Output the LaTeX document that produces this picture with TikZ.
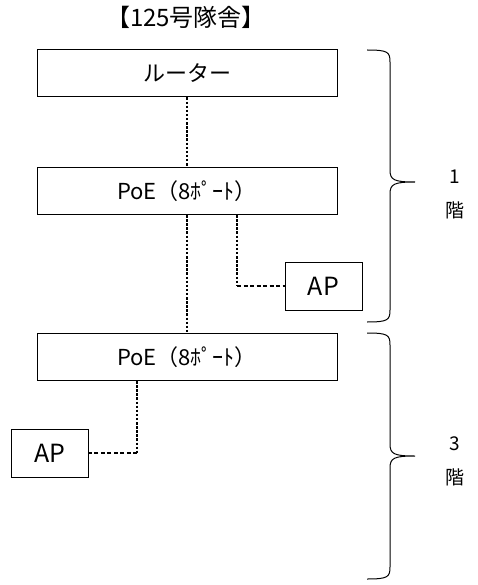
\documentclass[tikz,border=0pt]{standalone}
\usepackage{fontspec}
\setmainfont{Noto Sans CJK JP}
\usetikzlibrary{positioning,calc}
\tikzset{
  devbox/.style={draw, line width=1pt, minimum width=300pt, minimum height=47pt,
    inner sep=0pt, font=\fontsize{22}{25}\selectfont},
  apbox/.style={draw, line width=1pt, minimum width=77pt, minimum height=48pt,
    inner sep=0pt, font=\fontsize{25}{28}\selectfont},
  vlink/.style={line width=1.4pt, dash pattern=on 2.5pt off 1.6pt},
  hlink/.style={line width=1.4pt, dash pattern=on 4pt off 2.5pt},
  floorbrace/.style={line width=1pt},
  floorlbl/.style={font=\fontsize{19}{22}\selectfont},
}
\begin{document}
\begin{tikzpicture}[x=1pt, y=-1pt]
  \useasboundingbox (0,0) rectangle (478,585);

  % Title
  \node[font=\fontsize{24}{27}\selectfont] (title) at (186,17) {【125号隊舎】};

  % Devices
  \node[devbox] (router) at (187,73.5) {ルーター};
  \node[devbox] (poeA) at (187,191) {PoE（8ﾎﾟｰﾄ）};
  \node[devbox] (poeB) at (187,357) {PoE（8ﾎﾟｰﾄ）};
  \node[apbox] (apA) at (323.5,286) {AP};
  \node[apbox] (apB) at (50,453) {AP};

  % Links
  \coordinate (jA) at (237,286);
  \coordinate (jB) at (137,453);
  \draw[vlink] (router.south) -- (poeA.north);
  \draw[vlink] (poeA.south) -- (poeB.north);
  \draw[vlink] (poeA.south -| jA) -- (jA);
  \draw[hlink] (jA) -- (apA.west);
  \draw[vlink] (poeB.south -| jB) -- (jB);
  \draw[hlink] (jB) -- (apB.east);

  % Floor braces
  \draw[floorbrace] (367,50) .. controls (388,50) and (390,52) .. (390,62)
    -- (390,170) .. controls (390,180) and (394,182) .. (415,182)
    .. controls (394,182) and (390,184) .. (390,194)
    -- (390,310) .. controls (390,320) and (388,322) .. (367,322);
  \draw[floorbrace] (367,333) .. controls (388,333) and (390,335) .. (390,345)
    -- (390,444) .. controls (390,454) and (394,456) .. (415,456)
    .. controls (394,456) and (390,458) .. (390,468)
    -- (390,567) .. controls (390,577) and (388,579) .. (367,579);

  % Floor labels
  \node[floorlbl] (fA) at (455,177) {1};
  \node[floorlbl, below=11pt of fA] (fAk) {階};
  \node[floorlbl] (fB) at (455,444) {3};
  \node[floorlbl, below=11pt of fB] (fBk) {階};
\end{tikzpicture}
\end{document}
